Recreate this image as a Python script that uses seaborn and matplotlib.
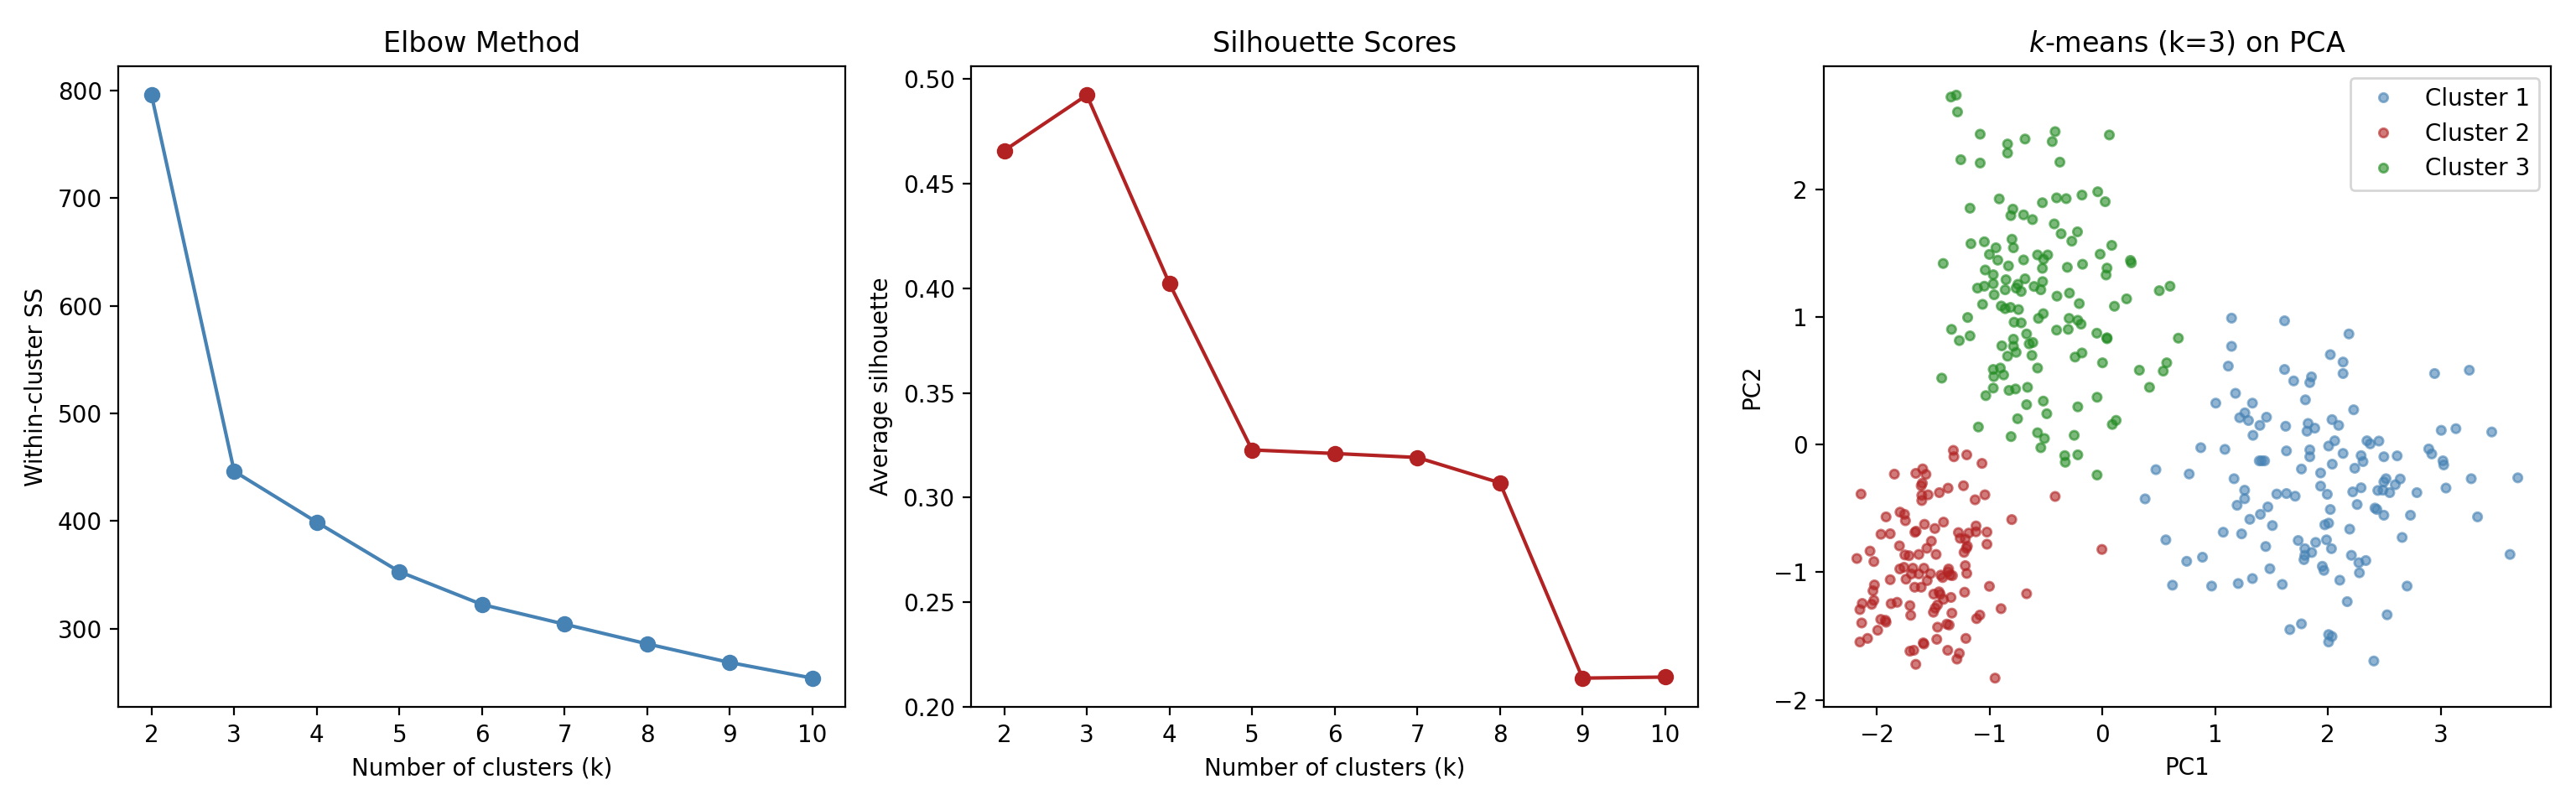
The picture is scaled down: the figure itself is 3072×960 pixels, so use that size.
import numpy as np
import pandas as pd
import matplotlib
matplotlib.use("Agg")
import matplotlib.pyplot as plt
import seaborn as sns

# elbow / silhouette values per k
k_values = [2, 3, 4, 5, 6, 7, 8, 9, 10]
wcss = [795.8, 446.3, 399.0, 353.0, 322.5, 304.2, 285.9, 268.6, 254.1]
silhouette = [0.4658, 0.4923, 0.4023, 0.3228, 0.3211, 0.3192, 0.3071, 0.2138, 0.2143]

# PCA coordinates, per cluster
c1_x = [0.378, 1.145, 1.615, 2.186, 1.145, 2.021, 2.134, 2.134, 1.116, 1.615, 2.946, 3.254, 1.696, 1.854,
        1.839, 1.180, 1.800, 1.005, 1.330, 2.228, 1.263, 1.217, 1.295, 1.455, 1.396, 1.335, 1.625, 1.824,
        1.883, 1.814, 2.036, 2.095, 3.005, 3.135, 3.453, 2.060, 2.006, 2.346, 2.375, 2.452, 0.872, 1.086,
        1.632, 1.839, 1.839, 2.134, 2.294, 2.311, 2.496, 2.614, 2.894, 2.921, 3.020, 3.027, 1.391, 1.413,
        1.438, 0.474, 0.769, 1.167, 1.765, 1.935, 2.038, 2.238, 3.271, 3.684, 1.935, 1.994, 1.261, 1.261,
        1.546, 1.632, 1.709, 2.220, 2.294, 2.442, 2.488, 2.496, 2.515, 2.548, 2.597, 2.641, 2.789, 3.047,
        1.194, 1.467, 1.401, 1.307, 1.507, 2.021, 2.259, 2.417, 2.434, 2.496, 2.732, 3.327, 1.972, 2.006,
        2.193, 1.071, 1.234, 0.562, 2.658, 1.448, 1.736, 1.891, 1.987, 1.795, 1.856, 2.031, 1.795, 1.787,
        0.747, 0.887, 2.208, 2.274, 2.336, 3.615, 1.485, 1.950, 1.964, 2.279, 0.621, 0.968, 1.204, 1.330,
        1.595, 2.105, 2.702, 2.171, 2.525, 1.765, 1.662, 2.006, 2.036, 2.006, 2.407]
c1_y = [-0.425, 0.991, 0.970, 0.867, 0.770, 0.705, 0.647, 0.557, 0.615, 0.589, 0.557, 0.583, 0.499, 0.531,
        0.486, 0.402, 0.351, 0.325, 0.325, 0.273, 0.249, 0.211, 0.189, 0.215, 0.151, 0.073, 0.144, 0.166,
        0.129, 0.105, 0.196, 0.151, 0.112, 0.125, 0.099, 0.030, -0.011, 0.030, 0.006, 0.028, -0.024, -0.037,
        -0.049, -0.041, -0.095, -0.069, -0.086, -0.133, -0.095, -0.088, -0.034, -0.073, -0.127, -0.159, -0.127, -0.127,
        -0.127, -0.196, -0.230, -0.267, -0.191, -0.222, -0.153, -0.185, -0.267, -0.260, -0.325, -0.389, -0.357, -0.424,
        -0.387, -0.383, -0.404, -0.370, -0.338, -0.359, -0.357, -0.292, -0.267, -0.376, -0.314, -0.269, -0.376, -0.340,
        -0.475, -0.488, -0.546, -0.585, -0.634, -0.508, -0.469, -0.497, -0.508, -0.553, -0.553, -0.566, -0.628, -0.615,
        -0.662, -0.686, -0.699, -0.746, -0.727, -0.798, -0.751, -0.766, -0.746, -0.815, -0.845, -0.815, -0.867, -0.901,
        -0.914, -0.882, -0.867, -0.925, -0.908, -0.860, -0.972, -0.953, -0.985, -1.004, -1.101, -1.108, -1.088, -1.049,
        -1.095, -1.062, -1.108, -1.230, -1.333, -1.404, -1.449, -1.488, -1.503, -1.546, -1.695]

c2_x = [-1.323, -1.318, -1.204, -1.069, -1.846, -1.656, -1.595, -1.566, -1.598, -1.608, -2.142, -1.447, -1.370,
        -1.233, -1.603, -1.547, -1.603, -1.043, -1.130, -0.420, -1.796, -1.756, -1.920, -1.748, -1.579, -1.410,
        -0.805, -1.965, -1.883, -1.664, -1.653, -1.487, -1.278, -1.186, -1.122, -1.122, -1.025, -1.518, -1.262,
        -1.217, -1.801, -1.558, -1.199, -1.228, -1.207, -1.025, -2.062, -2.179, -2.028, -1.753, -1.716, -1.629,
        -1.476, -0.005, -1.798, -1.761, -1.682, -1.584, -1.695, -1.629, -1.526, -1.365, -1.370, -1.352, -1.331,
        -1.434, -1.418, -1.217, -1.204, -1.883, -1.743, -1.555, -2.023, -2.036, -1.666, -1.608, -1.003, -1.497,
        -1.450, -1.439, -1.223, -0.673, -1.344, -1.410, -2.131, -2.028, -2.047, -1.875, -1.822, -1.708, -1.463,
        -1.484, -2.152, -1.500, -1.336, -1.701, -1.088, -1.117, -0.900, -1.967, -1.925, -1.920, -2.136, -1.994,
        -1.463, -1.381, -1.360, -2.152, -2.084, -1.470, -1.212, -1.590, -1.584, -1.708, -1.674, -1.373, -1.270,
        -1.291, -1.656, -0.953]
c2_y = [-0.045, -0.095, -0.080, -0.147, -0.231, -0.225, -0.190, -0.233, -0.302, -0.322, -0.387, -0.376, -0.341,
        -0.322, -0.397, -0.393, -0.438, -0.393, -0.432, -0.406, -0.529, -0.546, -0.566, -0.596, -0.624, -0.607,
        -0.587, -0.702, -0.698, -0.687, -0.678, -0.657, -0.689, -0.693, -0.637, -0.683, -0.685, -0.756, -0.734,
        -0.739, -0.793, -0.812, -0.795, -0.844, -0.812, -0.780, -0.834, -0.892, -0.916, -0.864, -0.870, -0.860,
        -0.860, -0.821, -0.974, -0.961, -0.968, -0.968, -1.013, -1.013, -1.011, -0.974, -0.996, -1.022, -1.026,
        -1.022, -1.041, -0.948, -1.009, -1.058, -1.054, -1.065, -1.099, -1.145, -1.117, -1.117, -1.110, -1.171,
        -1.153, -1.173, -1.156, -1.168, -1.197, -1.212, -1.244, -1.220, -1.251, -1.246, -1.235, -1.261, -1.255,
        -1.281, -1.292, -1.313, -1.320, -1.337, -1.335, -1.363, -1.285, -1.369, -1.376, -1.391, -1.397, -1.454,
        -1.430, -1.406, -1.413, -1.546, -1.518, -1.525, -1.518, -1.553, -1.562, -1.618, -1.611, -1.611, -1.635,
        -1.680, -1.721, -1.829]

c3_x = [-1.344, -1.297, -1.286, -1.085, -0.842, -0.842, -0.687, -0.420, -0.446, 0.061, -1.257, -1.085, -0.378,
        -0.042, -0.182, 0.024, -0.407, -0.322, -0.533, -0.916, -1.175, -0.795, -0.813, -0.700, -0.621, -0.428,
        -0.367, -0.222, -0.272, 0.082, -0.803, -0.790, -1.167, -1.048, -0.945, -1.003, -0.929, -0.576, -0.486,
        -0.523, -0.700, -0.021, 0.248, 0.256, -1.413, -0.834, -0.533, -0.312, -0.177, 0.040, 0.032, -1.040,
        -0.969, -0.856, -0.687, -0.969, -0.531, -1.109, -1.048, -0.750, -0.766, -0.863, -0.721, -0.607, -0.547,
        -0.961, -0.404, -0.293, -0.206, 0.106, 0.214, 0.504, 0.599, -1.064, -0.898, -0.863, -0.816, -0.745,
        -1.196, -0.568, -0.525, -0.296, -0.219, -0.190, -0.784, -0.721, -1.339, -0.407, -0.304, -1.270, -1.175,
        -0.790, -0.673, -0.050, 0.040, 0.040, 0.673, -0.893, -0.790, -0.650, -0.618, -0.766, -0.842, -0.626,
        -0.243, -0.182, 0.000, 0.570, -0.576, -0.969, -0.906, 0.327, 0.539,
        -1.426, -0.964, -0.877, -0.969, -1.035, -0.829, -0.771, -0.665, 0.417, -0.048, -0.525, -0.673, -0.219,
        -0.494, -0.753, 0.121, 0.087, -1.101, -0.576, -0.515, -0.811, -0.251, -0.547, -0.335, -0.330, -0.219,
        -0.048]
c3_y = [2.723, 2.738, 2.606, 2.432, 2.355, 2.284, 2.394, 2.452, 2.374, 2.426, 2.232, 2.206, 2.213,
        1.981, 1.955, 1.903, 1.933, 1.927, 1.895, 1.925, 1.852, 1.845, 1.794, 1.800, 1.763, 1.729,
        1.652, 1.667, 1.594, 1.561, 1.609, 1.542, 1.574, 1.589, 1.542, 1.490, 1.445, 1.486, 1.486,
        1.452, 1.447, 1.492, 1.443, 1.424, 1.419, 1.400, 1.381, 1.389, 1.413, 1.383, 1.329, 1.368,
        1.331, 1.292, 1.299, 1.260, 1.277, 1.226, 1.241, 1.256, 1.226, 1.213, 1.200, 1.239, 1.213,
        1.174, 1.163, 1.187, 1.105, 1.084, 1.142, 1.206, 1.241, 1.099, 1.086, 1.065, 1.075, 1.058,
        0.996, 0.989, 1.026, 0.989, 0.974, 0.944, 0.959, 0.954, 0.903, 0.897, 0.903, 0.815, 0.852,
        0.826, 0.867, 0.873, 0.837, 0.830, 0.834, 0.774, 0.770, 0.789, 0.800, 0.723, 0.693, 0.699,
        0.686, 0.718, 0.641, 0.641, 0.600, 0.589, 0.600, 0.583, 0.576,
        0.521, 0.533, 0.546, 0.443, 0.384, 0.425, 0.436, 0.449, 0.449, 0.371, 0.341, 0.313, 0.296,
        0.242, 0.203, 0.190, 0.158, 0.138, 0.093, 0.048, 0.063, 0.073, -0.024, -0.086, -0.138, -0.080,
        -0.238]

cluster_names = ["Cluster 1", "Cluster 2", "Cluster 3"]
cluster_colors = ["steelblue", "firebrick", "forestgreen"]

scores = pd.DataFrame({"k": k_values, "wcss": wcss, "silhouette": silhouette})
pca_df = pd.DataFrame({
    "PC1": c1_x + c2_x + c3_x,
    "PC2": c1_y + c2_y + c3_y,
    "cluster": [cluster_names[0]] * len(c1_x) + [cluster_names[1]] * len(c2_x) + [cluster_names[2]] * len(c3_x),
})

fig, axes = plt.subplots(1, 3, figsize=(15.36, 4.8))

sns.lineplot(data=scores, x="k", y="wcss", ax=axes[0], color="steelblue", marker="o",
             markersize=7, markeredgewidth=0, linewidth=1.5)
axes[0].set_title("Elbow Method")
axes[0].set_xlabel("Number of clusters (k)")
axes[0].set_ylabel("Within-cluster SS")
axes[0].set_xticks(k_values)

sns.lineplot(data=scores, x="k", y="silhouette", ax=axes[1], color="firebrick", marker="o",
             markersize=7, markeredgewidth=0, linewidth=1.5)
axes[1].set_title("Silhouette Scores")
axes[1].set_xlabel("Number of clusters (k)")
axes[1].set_ylabel("Average silhouette")
axes[1].set_xticks(k_values)

sns.scatterplot(data=pca_df, x="PC1", y="PC2", hue="cluster", hue_order=cluster_names,
                palette=dict(zip(cluster_names, cluster_colors)), ax=axes[2],
                s=14, alpha=0.6, edgecolor="face", linewidth=1.0)
axes[2].set_title("$k$-means (k=3) on PCA")
axes[2].set_xlabel("PC1")
axes[2].set_ylabel("PC2")
axes[2].legend(loc="upper right")

plt.tight_layout()
plt.savefig("out.png", dpi=200)
